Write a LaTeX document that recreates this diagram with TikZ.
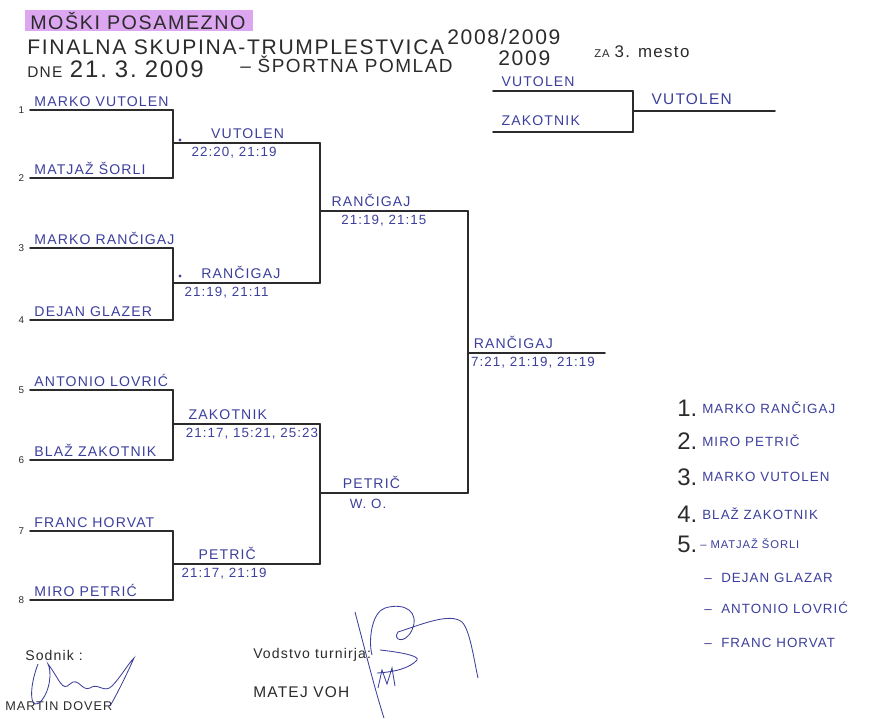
\documentclass[tikz,border=0pt]{standalone}
\usepackage{fontspec}
\setmainfont{Liberation Sans}
\newfontfamily\hand[LetterSpace=8]{Liberation Sans}
\usetikzlibrary{positioning}
\definecolor{ink}{HTML}{3C3F9C}
\definecolor{pen}{HTML}{2B2B2B}
\definecolor{marker}{HTML}{DCA6F0}
\tikzset{
  bracket/.style={line width=1.2pt, draw=pen, line cap=round},
  player/.style={font=\hand\fontsize{10}{12}\selectfont, text=ink, inner sep=1pt},
  winner/.style={font=\hand\fontsize{10}{12}\selectfont, text=ink, inner sep=1pt},
  score/.style={font=\hand\fontsize{9.5}{11}\selectfont, text=ink, inner sep=1pt},
  seed/.style={font=\fontsize{7}{8}\selectfont, text=pen, inner sep=1pt},
  header/.style={font=\hand\fontsize{15}{17}\selectfont, text=pen, inner sep=0pt, anchor=west},
  placeno/.style={font=\fontsize{17}{19}\selectfont, text=pen, inner sep=0pt, anchor=west},
  rankname/.style={font=\hand\fontsize{9.5}{11}\selectfont, text=ink, inner sep=0pt, anchor=west},
  signtext/.style={font=\hand\fontsize{10}{12}\selectfont, text=pen, inner sep=0pt, anchor=west},
  sig/.style={draw=ink, line width=0.6pt}
}

\begin{document}
\begin{tikzpicture}[x=0.25mm, y=-0.25mm]
\useasboundingbox (0,0) rectangle (889,720);

% heading
\fill[marker] (25,10) rectangle (253,31);
\node[header, font=\hand\fontsize{14}{16}\selectfont] (title) at (30,21) {MOŠKI POSAMEZNO};
\node[header] (group) at (27,47) {FINALNA SKUPINA-TRUMPLESTVICA};
\node[header] (season) at (447,37) {2008/2009};
\node[header, anchor=base west] (date) at (27,77) {{\fontsize{11}{13}\selectfont DNE} {\fontsize{17}{19}\selectfont 21.\,\,3.\,\,2009}};
\node[header, font=\hand\fontsize{13.5}{16}\selectfont] (venue) at (240,64) {– ŠPORTNA POMLAD};
\node[header] (year) at (498,58) {2009};
\node[signtext] (third) at (594,52) {{\fontsize{8}{9}\selectfont ZA} {\fontsize{12}{14}\selectfont 3. mesto}};

% first round
\foreach \i/\y/\player in {1/110/MARKO VUTOLEN, 2/178/MATJAŽ ŠORLI, 3/248/MARKO RANČIGAJ, 4/320/DEJAN GLAZER, 5/390/ANTONIO LOVRIĆ, 6/460/BLAŽ ZAKOTNIK, 7/531/FRANC HORVAT, 8/600/MIRO PETRIĆ}{
  \coordinate (s\i) at (30,\y);
  \coordinate (e\i) at (173,\y);
  \draw[bracket] (s\i) -- (e\i);
  \node[seed, left=3pt of s\i] (n\i) {\i};
  \node[player, above right=1pt and 2pt of s\i] (p\i) {\player};
}

% quarter finals
\foreach \m/\a/\b/\y/\dx/\gx/\winner/\games in {1/1/2/143/26/12/VUTOLEN/{22:20, 21:19}, 2/3/4/283/19/7/RANČIGAJ/{21:19, 21:11}, 3/5/6/424/10/8/ZAKOTNIK/{21:17, 15:21, 25:23}, 4/7/8/564/17/5/PETRIČ/{21:17, 21:19}}{
  \draw[bracket] (e\a) -- (e\b);
  \coordinate (a\m) at (173,\y);
  \coordinate (b\m) at (320,\y);
  \draw[bracket] (a\m) -- (b\m);
  \node[winner, above right=2pt and \dx pt of a\m] (w\m) {\winner};
  \node[score, below right=2pt and \gx pt of a\m] (g\m) {\games};
}
\fill[ink] (180,140) circle[radius=1.2pt];
\fill[ink] (180,276) circle[radius=1.2pt];

% semi finals
\coordinate (d1) at (320,211);
\coordinate (c1) at (468,211);
\coordinate (d2) at (320,493);
\coordinate (c2) at (468,493);
\draw[bracket] (b1) -- (b2);
\draw[bracket] (b3) -- (b4);
\draw[bracket] (d1) -- (c1);
\draw[bracket] (d2) -- (c2);
\node[winner, above right=2pt and 7pt of d1] (sw1) {RANČIGAJ};
\node[score, below right=2pt and 14pt of d1] (sg1) {21:19, 21:15};
\node[winner, above right=2pt and 15pt of d2] (sw2) {PETRIČ};
\node[score, below right=3pt and 20pt of d2] (sg2) {W. O.};

% final
\coordinate (f0) at (468,353);
\coordinate (f1) at (605,353);
\draw[bracket] (c1) -- (c2);
\draw[bracket] (f0) -- (f1);
\node[winner, above right=2pt and 3pt of f0] (fw) {RANČIGAJ};
\node[score, below right=2pt and 1pt of f0] (fg) {7:21, 21:19, 21:19};

% match for 3rd place
\coordinate (t1) at (493,91);
\coordinate (t1e) at (633,91);
\coordinate (t2) at (493,132);
\coordinate (t2e) at (633,132);
\coordinate (tw) at (633,111);
\coordinate (twe) at (775,111);
\draw[bracket] (t1) -- (t1e);
\draw[bracket] (t2) -- (t2e);
\draw[bracket] (t1e) -- (t2e);
\draw[bracket] (tw) -- (twe);
\node[player, above right=2pt and 5pt of t1] (tp1) {VUTOLEN};
\node[player, above right=3pt and 5pt of t2] (tp2) {ZAKOTNIK};
\node[winner, font=\hand\fontsize{11}{13}\selectfont, above right=3pt and 12pt of tw] (tw1) {VUTOLEN};

% final standings
\foreach \r/\y/\player in {1/408/MARKO RANČIGAJ, 2/441/MIRO PETRIČ, 3/477/MARKO VUTOLEN, 4/514/BLAŽ ZAKOTNIK}{
  \node[placeno] (no\r) at (677,\y) {\r.};
  \node[rankname] (rk\r) at (702,\y) {\player};
}
\node[placeno] (no5) at (677,544) {5.};
\node[rankname, font=\hand\fontsize{8}{10}\selectfont] (rk5) at (700,544) {– MATJAŽ ŠORLI};
\foreach \k/\y/\player in {6/578/DEJAN GLAZAR, 7/608/ANTONIO LOVRIĆ, 8/643/FRANC HORVAT}{
  \node[rankname] (rk\k) at (704,\y) {–\ \ \player};
}

% signatures
\node[signtext] (judge) at (25,655) {Sodnik :};
\node[signtext, font=\hand\fontsize{9}{11}\selectfont] (judgename) at (5,706) {MARTIN DOVER};
\node[signtext] (lead) at (253,655) {Vodstvo turnirja:};
\node[signtext, font=\hand\fontsize{11}{13}\selectfont] (leadname) at (253,692) {MATEJ VOH};
\draw[sig] (38,664) .. controls (28,690) and (30,714) .. (42,700)
  .. controls (50,690) and (52,672) .. (48,664)
  .. controls (60,680) and (62,692) .. (70,684)
  .. controls (78,676) and (82,692) .. (90,688)
  .. controls (98,682) and (104,694) .. (112,686)
  .. controls (120,678) and (128,664) .. (134,658)
  .. controls (126,676) and (116,696) .. (110,706);
\draw[sig] (355,612) .. controls (365,650) and (375,690) .. (384,718);
\draw[sig] (372,655) .. controls (368,640) and (372,612) .. (385,608)
  .. controls (405,602) and (420,612) .. (412,630)
  .. controls (405,645) and (392,640) .. (398,632)
  .. controls (420,625) and (450,612) .. (462,622)
  .. controls (470,630) and (474,660) .. (478,678);
\draw[sig] (380,650) .. controls (400,652) and (420,656) .. (417,660)
  .. controls (410,668) and (395,672) .. (377,673);
\draw[sig] (378,688) -- (382,670) -- (387,684) -- (392,668) -- (395,686);
\end{tikzpicture}
\end{document}
